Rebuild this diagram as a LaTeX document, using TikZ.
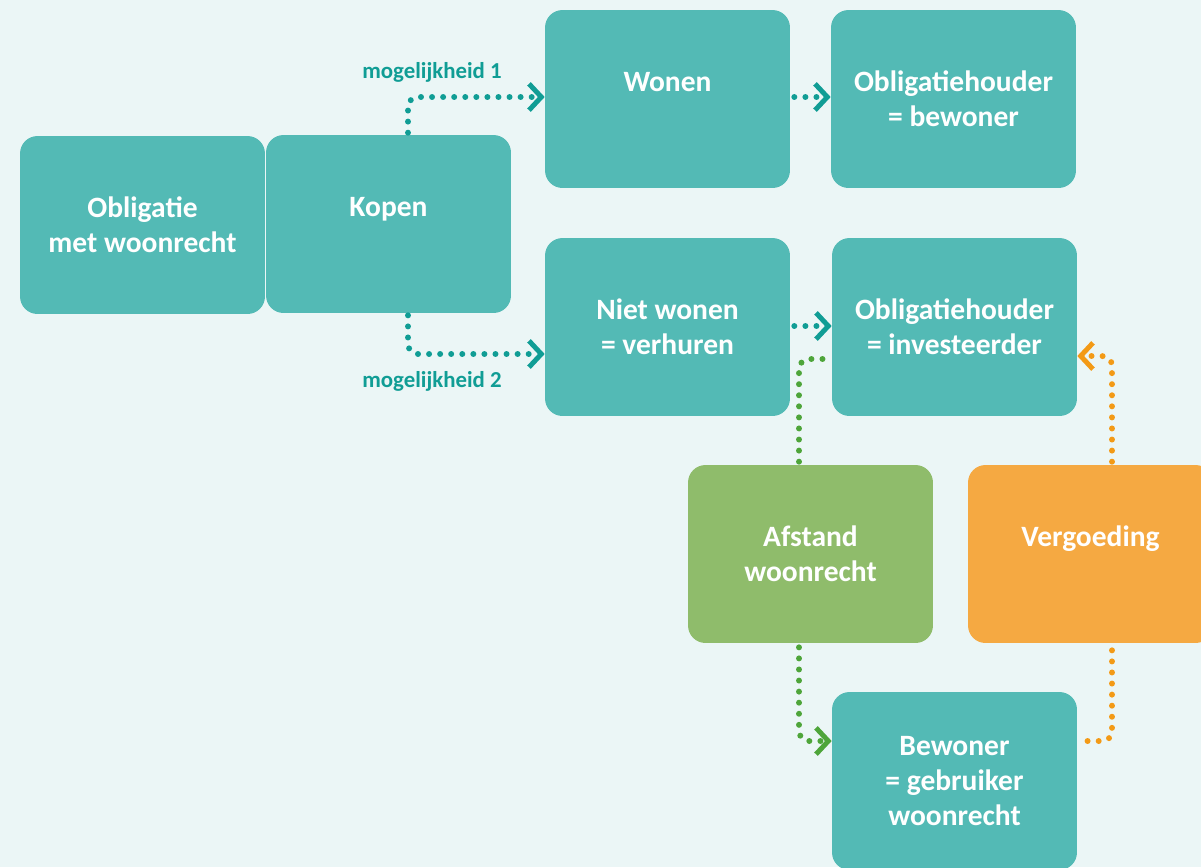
\documentclass[tikz,border=0pt]{standalone}
\usepackage{fontspec}
\setmainfont{Carlito}
\usetikzlibrary{arrows.meta}
\definecolor{bgc}{HTML}{EBF6F6}
\definecolor{tealbox}{HTML}{53BAB5}
\definecolor{greenbox}{HTML}{8FBC6B}
\definecolor{orangebox}{HTML}{F5A942}
\definecolor{tealdot}{HTML}{109D95}
\definecolor{greendot}{HTML}{4EA53A}
\definecolor{orangedot}{HTML}{F39A16}
\newcommand{\cardstrut}{\rule{0pt}{1.08\baselineskip}}
\tikzset{
  x=0.02cm, y=-0.02cm,
  card/.style={rounded corners=0.35cm, minimum width=4.9cm, minimum height=3.56cm,
    inner sep=0pt, draw=none, align=center, text=white,
    font=\fontsize{16.8}{19.9}\selectfont\bfseries,
    execute at begin node=\cardstrut, execute at end node=\cardstrut},
  lbl/.style={text=tealdot, font=\fontsize{13}{15}\selectfont\bfseries, inner sep=0pt},
  dotline/.style={line width=3.4pt, line cap=round, dash pattern=on 0pt off 6.3pt, rounded corners=0.2cm},
  chev/.style={-{Straight Barb[length=7pt,width=15pt,line width=2.8pt]}},
}
\begin{document}
\begin{tikzpicture}
\fill[bgc] (0,0) rectangle (1201,867);
\useasboundingbox (0,0) rectangle (1201,867);
\clip (0,0) rectangle (1201,867);

\node[card, fill=tealbox] (obl) at (142.5,225) {Obligatie\\met woonrecht};
\node[card, fill=tealbox] (kopen) at (388.5,224) {Kopen\\\mbox{}};
\node[card, fill=tealbox] (wonen) at (667.5,99) {Wonen\\\mbox{}};
\node[card, fill=tealbox] (ohb) at (953.5,99) {Obligatiehouder\\= bewoner};
\node[card, fill=tealbox] (niet) at (667.5,327) {Niet wonen\\= verhuren};
\node[card, fill=tealbox] (ohi) at (954.5,327) {Obligatiehouder\\= investeerder};
\node[card, fill=greenbox] (afst) at (810.5,554) {Afstand\\woonrecht};
\node[card, fill=orangebox] (verg) at (1090.5,554) {Vergoeding\\\mbox{}};
\node[card, fill=tealbox] (bew) at (954.5,781) {Bewoner\\= gebruiker\\woonrecht};

\node[lbl] (m1) at (432,72) {mogelijkheid 1};
\node[lbl] (m2) at (432,381) {mogelijkheid 2};

% teal connectors
\draw[dotline, chev, tealdot] ([xshift=0.39cm,yshift=0.04cm]kopen.north) |- ([yshift=0.04cm]wonen.west);
\draw[dotline, chev, tealdot] ([xshift=0.39cm,yshift=-0.04cm]kopen.south) |- ([yshift=-0.54cm]niet.west);
\draw[dotline, chev, tealdot] ([xshift=0.08cm,yshift=0.04cm]wonen.east) -- ([yshift=0.04cm]ohb.west);
\draw[dotline, chev, tealdot] ([xshift=0.08cm,yshift=0.02cm]niet.east) -- ([yshift=0.02cm]ohi.west);

% green connectors
\draw[dotline, greendot] ([xshift=-0.23cm,yshift=0.06cm]afst.north) |- ([xshift=-0.06cm,yshift=-0.64cm]ohi.west);
\draw[dotline, chev, greendot] ([xshift=-0.23cm,yshift=-0.08cm]afst.south) |- ([yshift=0.8cm]bew.west);

% orange connectors
\draw[dotline, orangedot] ([xshift=0.43cm,yshift=-0.14cm]verg.south) |- ([xshift=0.06cm,yshift=0.8cm]bew.east);
\draw[dotline, chev, orangedot] ([xshift=0.43cm,yshift=0.06cm]verg.north) |- ([yshift=-0.58cm]ohi.east);
\end{tikzpicture}
\end{document}
